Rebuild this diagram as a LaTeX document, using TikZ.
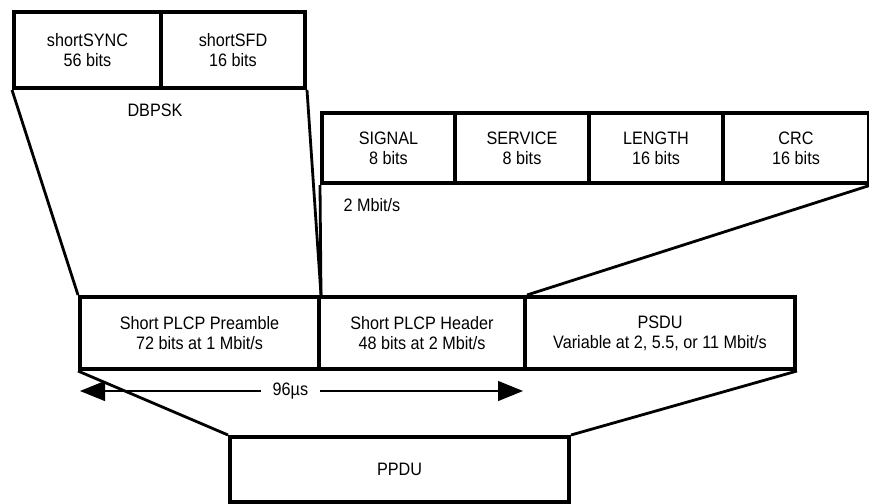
\documentclass[tikz,border=0pt]{standalone}
\usepackage{fontspec}
\setmainfont{Liberation Sans}[FakeStretch=0.9]
\usetikzlibrary{arrows.meta}
\tikzset{
  fieldbox/.style={draw=black, line width=4pt, fill=white, inner sep=0pt,
    anchor=north west, align=center, minimum height=#1},
  fieldbox/.default=76pt,
  link/.style={draw=black, line width=2.8pt},
  lbl/.style={inner sep=0pt},
  dimarrow/.style={draw=black, line width=1.2pt,
    {Triangle[length=25pt,width=20pt]}-{Triangle[length=25pt,width=20pt]}},
}
\begin{document}
\begin{tikzpicture}[x=1pt,y=-1pt, every node/.style={font=\fontsize{18}{20}\selectfont}]
\useasboundingbox (0,0) rectangle (869,503);
% top: short preamble fields
\node[fieldbox=76pt, minimum width=147pt] (sync) at (12,10) {shortSYNC\\56 bits};
\node[fieldbox=76pt, minimum width=144pt] (sfd) at (159,10) {shortSFD\\16 bits};
\node[lbl] (dbpsk) at (155,110) {DBPSK};
% middle: header fields
\node[fieldbox=70pt, minimum width=133pt] (signal) at (320,111) {SIGNAL\\8 bits};
\node[fieldbox=70pt, minimum width=134pt] (service) at (453,111) {SERVICE\\8 bits};
\node[fieldbox=70pt, minimum width=134pt] (length) at (587,111) {LENGTH\\16 bits};
\node[fieldbox=70pt, minimum width=146pt] (crc) at (721,111) {CRC\\16 bits};
\node[lbl] (rate) at (372,205) {2 Mbit/s};
% main PPDU parts
\node[fieldbox=72pt, minimum width=239pt] (pre) at (78,295) {Short PLCP Preamble\\72 bits at 1 Mbit/s};
\node[fieldbox=72pt, minimum width=206pt] (hdr) at (317,295) {Short PLCP Header\\48 bits at 2 Mbit/s};
\node[fieldbox=72pt, minimum width=270pt] (psdu) at (523,295) {PSDU\\Variable at 2, 5.5, or 11 Mbit/s};
% PPDU
\node[fieldbox=65pt, minimum width=339pt] (ppdu) at (228,435) {PPDU};
% connectors
\draw[link] (sync.south west) -- (pre.north west);
\draw[link] (sfd.south east) -- (pre.north east);
\draw[link] (signal.south west) -- (pre.north east);
\draw[link] (crc.south east) -- (hdr.north east);
\draw[link] (pre.south west) -- (ppdu.north west);
\draw[link] (psdu.south east) -- (ppdu.north east);
% duration arrow
\coordinate (aL) at (80,391);
\coordinate (aR) at (523,391);
\draw[dimarrow] (aL) -- (aR) node[pos=0.475, fill=white, inner xsep=12pt, inner ysep=2pt] (dur) {96µs};
\end{tikzpicture}
\end{document}
